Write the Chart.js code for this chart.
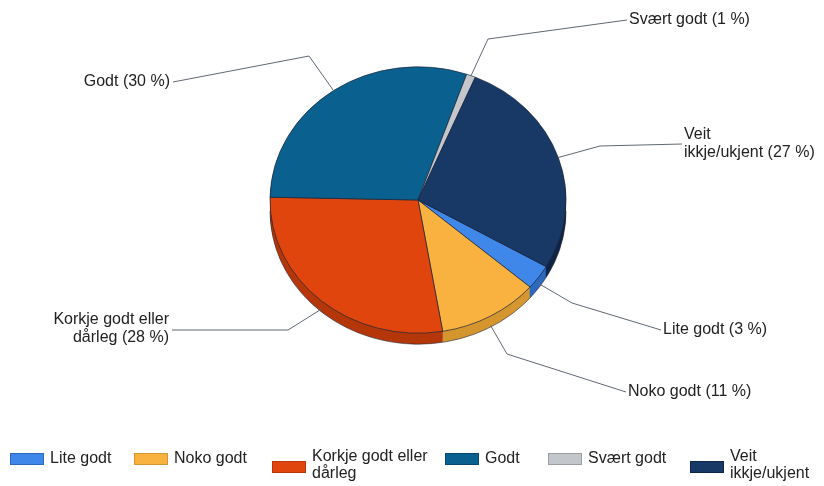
<!DOCTYPE html>
<html>
<head>
<meta charset="utf-8">
<script src="https://cdn.jsdelivr.net/npm/chart.js@4.4.0/dist/chart.umd.min.js"></script>
<style>
  html, body { margin: 0; padding: 0; background: #fff; }
  #wrap { position: relative; width: 824px; height: 486px; }
</style>
</head>
<body>
<div id="wrap"><canvas id="grafico" width="824" height="486"></canvas></div>
<script>
// data
const kategoriar = ['Lite godt', 'Noko godt', 'Korkje godt eller dårleg', 'Godt', 'Svært godt', 'Veit ikkje/ukjent'];
const prosent = [3, 11, 28, 30, 1, 27];
const ordLinje1 = [0, 0, 3, 0, 0, 1]; // tal ord på første linje når teksten vert broten

const fargar = ['#3f88e9', '#f9b23f', '#e0450d', '#0a618f', '#c3c6ca', '#183866'];
const sidefargar = ['#2c68bb', '#d5962f', '#b5370a', '#074a6e', '#9a9da1', '#0f2548'];

// layout
const SY = 0.9;      // flattening of the pie
const DYBDE = 11;    // 3d depth in px
const FONT = '16px "Liberation Sans", Arial, sans-serif';
const TEKSTFARGE = '#222';

const etikettar = [
  { x: 663, y: [330], knekk: [572, 303], linjeY: 330, side: 'left' },
  { x: 628, y: [392], knekk: [507, 354], linjeY: 392, side: 'left' },
  { x: 169, y: [320, 338], knekk: [288, 330], linjeY: 330, side: 'right' },
  { x: 170, y: [82], knekk: [309, 56], linjeY: 82, side: 'right' },
  { x: 629, y: [20], knekk: [488, 39], linjeY: 20, side: 'left' },
  { x: 684, y: [135, 153], knekk: [600, 146], linjeY: 144, side: 'left' }
];
const legendX = [10, 134, 272, 445, 548, 690];

function linjer(tekst, n) {
  if (!n) return [tekst];
  const ord = tekst.split(' ');
  return [ord.slice(0, n).join(' '), ord.slice(n).join(' ')];
}

function ellipse(ctx, cx, cy) {
  ctx.translate(cx, cy);
  ctx.scale(1, SY);
  ctx.translate(-cx, -cy);
}

const pie3d = {
  id: 'pie3d',
  beforeDatasetsDraw(chart) {
    const ctx = chart.ctx;
    const arcs = chart.getDatasetMeta(0).data;
    const cx = arcs[0].x, cy = arcs[0].y;
    for (let d = DYBDE; d >= 1; d--) {
      ctx.save();
      ctx.translate(0, d);
      ellipse(ctx, cx, cy);
      arcs.forEach((arc, i) => {
        ctx.beginPath();
        ctx.moveTo(cx, cy);
        ctx.arc(cx, cy, arc.outerRadius, arc.startAngle, arc.endAngle);
        ctx.closePath();
        ctx.fillStyle = sidefargar[i];
        ctx.fill();
      });
      ctx.restore();
    }
    // bottom rim outline
    ctx.save();
    ctx.translate(0, DYBDE);
    ellipse(ctx, cx, cy);
    ctx.beginPath();
    ctx.arc(cx, cy, arcs[0].outerRadius, 0, Math.PI);
    ctx.restore();
    ctx.strokeStyle = 'rgba(40,40,50,0.6)';
    ctx.lineWidth = 1;
    ctx.stroke();

    ctx.save();
    ellipse(ctx, cx, cy);
  },
  afterDatasetsDraw(chart) {
    chart.ctx.restore();
  }
};

const etikettPlugin = {
  id: 'etikettar',
  afterDraw(chart) {
    const ctx = chart.ctx;
    const arcs = chart.getDatasetMeta(0).data;
    ctx.save();
    ctx.font = FONT;
    ctx.textBaseline = 'middle';
    ctx.strokeStyle = '#5f6873';
    ctx.lineWidth = 1;
    arcs.forEach((arc, i) => {
      const e = etikettar[i];
      const mid = (arc.startAngle + arc.endAngle) / 2;
      const sx = arc.x + Math.cos(mid) * arc.outerRadius;
      let sy = arc.y + Math.sin(mid) * arc.outerRadius * SY;
      sy += DYBDE * Math.max(0, Math.sin(mid));
      const ex = e.side === 'left' ? e.x - 2 : e.x + 3;
      ctx.beginPath();
      ctx.moveTo(sx, sy);
      ctx.lineTo(e.knekk[0], e.knekk[1]);
      ctx.lineTo(ex, e.linjeY);
      ctx.stroke();

      const l = linjer(kategoriar[i], ordLinje1[i]);
      l[l.length - 1] += ' (' + prosent[i] + ' %)';
      ctx.fillStyle = TEKSTFARGE;
      ctx.textAlign = e.side;
      l.forEach((t, k) => ctx.fillText(t, e.x, e.y[k]));
    });

    // legend
    ctx.textAlign = 'left';
    kategoriar.forEach((k, i) => {
      const l = linjer(k, ordLinje1[i]);
      const x = legendX[i];
      const boksY = l.length > 1 ? 461 : 453;
      ctx.fillStyle = fargar[i];
      ctx.fillRect(x, boksY, 34, 12);
      ctx.strokeStyle = sidefargar[i];
      ctx.strokeRect(x + 0.5, boksY + 0.5, 33, 11);
      ctx.fillStyle = TEKSTFARGE;
      if (l.length > 1) {
        ctx.fillText(l[0], x + 40, 457);
        ctx.fillText(l[1], x + 40, 474);
      } else {
        ctx.fillText(l[0], x + 40, 459);
      }
    });
    ctx.restore();
  }
};

new Chart(document.getElementById('grafico'), {
  type: 'pie',
  data: {
    labels: kategoriar,
    datasets: [{
      data: prosent,
      backgroundColor: fargar,
      borderColor: 'rgba(30,40,60,0.75)',
      borderWidth: 1,
      clip: false
    }]
  },
  options: {
    responsive: false,
    animation: false,
    events: [],
    rotation: 120,
    radius: 148,
    layout: { padding: { left: 270, right: 258, top: 52, bottom: 138 } },
    plugins: {
      legend: { display: false },
      tooltip: { enabled: false }
    }
  },
  plugins: [pie3d, etikettPlugin]
});
</script>
</body>
</html>
